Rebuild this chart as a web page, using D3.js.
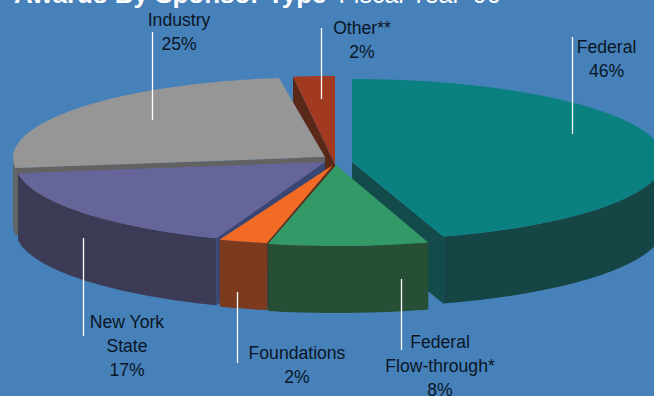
<!DOCTYPE html>
<html>
<head>
<meta charset="utf-8">
<script src="https://cdn.jsdelivr.net/npm/d3@7"></script>
<style>
  html, body { margin: 0; padding: 0; background: #4681ba; }
  svg { display: block; }
  text { font-family: "Liberation Sans", Arial, sans-serif; }
</style>
</head>
<body>
<script>
// Sponsored award shares, clockwise from twelve o'clock
const sponsors = ["Federal", "Federal Flow-through", "Foundations", "New York State", "Industry", "Other"];
const shares = [46, 8, 2, 17, 25, 2];

// Small corrections (degrees) for foreshortening at each slice boundary
const boundaryTilt = [0, -2.6, -1.8, 0, 0, 0, 0];

// Exploded ellipse for each slice: rim centre and radii, plus the wedge apex
const rimCx = [352, 336.5, 335, 333.5, 317, 335];
const rimCy = [159.5, 164, 168, 163, 158, 160];
const rimRx = [312, 314, 313, 318, 304, 335];
const rimRy = [80.5, 82, 77, 81, 80.6, 84];
const apexX = [352, 336, 333, 325, 325, 335];
const apexY = [162, 165, 165, 162, 157, 164];
const depth = 67;

const topColors = ["#0a8180", "#339966", "#f26b25", "#66659a", "#969696", "#a23a22"];
const wallColors = ["#154645", "#264f36", "#7c3a1e", "#3b3b55", "#636363", "#8a3320"];
const sideColors = ["#134a4a", "#264f36", "#5f2e1a", "#384673", "#626262", "#5a2818"];

// Drawing order runs from the back of the pie to the front
const drawOrder = [5, 4, 0, 3, 2, 1];

const labelLines = [
  ["Federal", "46%"],
  ["Federal", "Flow-through*", "8%"],
  ["Foundations", "2%"],
  ["New York", "State", "17%"],
  ["Industry", "25%"],
  ["Other**", "2%"]
];
const labelX = [606.5, 440, 297, 127, 179, 362];
const labelY = [53, 348, 359, 328, 26, 33.5];
const leaderX = [572.5, 401.5, 237.5, 83.5, 152.5, 321.5];
const leaderY1 = [37, 279, 292, 238, 32, 28];
const leaderY2 = [134, 350, 363, 336, 120, 99];

const width = 654, height = 396;
const svg = d3.select("body").append("svg").attr("width", width).attr("height", height);
svg.append("rect").attr("width", width).attr("height", height).attr("fill", "#4681ba");

// Heading, cropped by the top edge of the page
const heading = svg.append("text").attr("x", 14).attr("y", 2.5).attr("fill", "#ffffff");
heading.append("tspan").attr("font-size", 26).attr("font-weight", "bold").text("Awards By Sponsor Type");
heading.append("tspan").attr("font-size", 25).attr("dx", 12).text("Fiscal Year '06");

const arcs = d3.pie().sort(null).value(d => d).startAngle(0).endAngle(2 * Math.PI)(shares);
const boundaries = arcs.map(a => a.startAngle).concat(2 * Math.PI);
const toProjected = d3.scaleLinear()
  .domain(boundaries)
  .range(boundaries.map((b, i) => b + boundaryTilt[i] * Math.PI / 180));

const rimPoint = (i, theta, drop) => [
  rimCx[i] + rimRx[i] * Math.sin(theta),
  rimCy[i] - rimRy[i] * Math.cos(theta) + drop
];
const outline = d3.line();

function rimPoints(i, from, to, drop) {
  const steps = Math.max(2, Math.ceil((to - from) / 0.02));
  return d3.range(steps + 1).map(k => rimPoint(i, from + (to - from) * k / steps, drop));
}

drawOrder.forEach(i => {
  const from = toProjected(arcs[i].startAngle);
  const to = toProjected(arcs[i].endAngle);
  const g = svg.append("g");
  const apex = [apexX[i], apexY[i]];

  // Cut faces: only those turned toward the viewer are drawn
  [[from, Math.sin(from) < -1e-6], [to, Math.sin(to) > 1e-6]].forEach(([theta, visible]) => {
    if (!visible) return;
    const rim = rimPoint(i, theta, 0);
    g.append("path")
      .attr("d", outline([apex, rim, [rim[0], rim[1] + depth], [apex[0], apex[1] + depth]]) + "Z")
      .attr("fill", sideColors[i]);
  });

  // Outer wall: only the front half of the rim faces the viewer
  const wallFrom = Math.max(from, Math.PI / 2);
  const wallTo = Math.min(to, 3 * Math.PI / 2);
  if (wallTo > wallFrom) {
    g.append("path")
      .attr("d", outline(rimPoints(i, wallFrom, wallTo, 0).concat(rimPoints(i, wallFrom, wallTo, depth).reverse())) + "Z")
      .attr("fill", wallColors[i]);
  }

  // Top face
  g.append("path")
    .attr("d", outline([apex].concat(rimPoints(i, from, to, 0))) + "Z")
    .attr("fill", topColors[i]);
});

// Leader lines
svg.append("g").selectAll("line").data(leaderX).join("line")
  .attr("x1", d => d).attr("x2", d => d)
  .attr("y1", (d, i) => leaderY1[i]).attr("y2", (d, i) => leaderY2[i])
  .attr("stroke", "#ffffff").attr("stroke-width", 1.3);

// Labels
labelLines.forEach((lines, i) => {
  const t = svg.append("text")
    .attr("text-anchor", "middle").attr("font-size", 17.6).attr("fill", "#0a1626");
  lines.forEach((line, k) => {
    t.append("tspan").attr("x", labelX[i]).attr("y", labelY[i] + k * 24).text(line);
  });
});
</script>
</body>
</html>
